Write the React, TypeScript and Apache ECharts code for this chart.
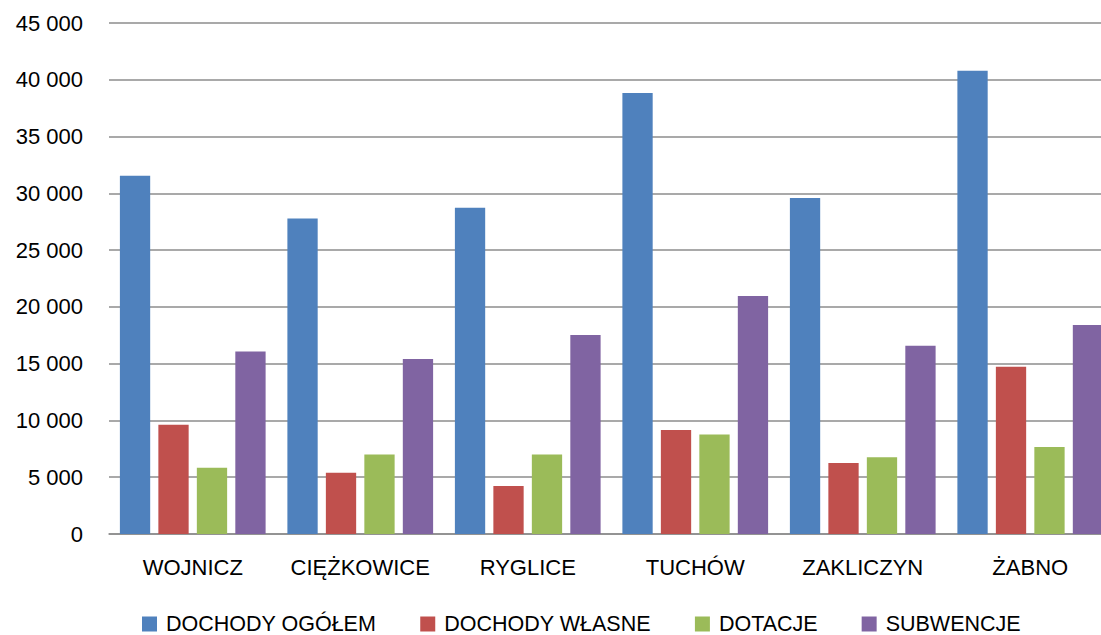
import React, { useEffect, useRef } from "react";
import * as echarts from "echarts";

const categories = ["WOJNICZ", "CIĘŻKOWICE", "RYGLICE", "TUCHÓW", "ZAKLICZYN", "ŻABNO"];
const seriesNames = ["DOCHODY OGÓŁEM", "DOCHODY WŁASNE", "DOTACJE", "SUBWENCJE"];
const dochodyOgolem = [31550, 27790, 28730, 38830, 29590, 40800];
const dochodyWlasne = [9620, 5400, 4230, 9160, 6250, 14730];
const dotacje = [5840, 7010, 7010, 8770, 6750, 7660];
const subwencje = [16080, 15410, 17520, 20960, 16580, 18400];
const colors = ["#4F81BD", "#C0504D", "#9BBB59", "#8064A2"];

const FONT = "'Liberation Sans', Arial, sans-serif";

function fmt(v: number): string {
  const s = String(Math.round(v));
  return s.replace(/\B(?=(\d{3})+(?!\d))/g, " ");
}

export default function App() {
  const ref = useRef<HTMLDivElement>(null);
  useEffect(() => {
    if (!ref.current) return;
    const chart = echarts.init(ref.current, null, { renderer: "svg" });
    const data = [dochodyOgolem, dochodyWlasne, dotacje, subwencje];
    chart.setOption({
      animation: false,
      backgroundColor: "#ffffff",
      grid: { left: 109, top: 23, bottom: 101, right: 0, containLabel: false },
      legend: {
        left: 142,
        top: 613,
        padding: 0,
        icon: "rect",
        itemWidth: 15,
        itemHeight: 15,
        itemGap: 44,
        textStyle: {
          fontFamily: FONT,
          fontSize: 21.5,
          color: "#000000",
          padding: [0, 0, 0, 4],
        },
        data: seriesNames,
      },
      xAxis: {
        type: "category",
        data: categories,
        axisLine: { show: true, lineStyle: { color: "#8c8c8c", width: 1.5 } },
        axisTick: { show: false },
        axisLabel: { fontFamily: FONT, fontSize: 22, color: "#000000", margin: 22, interval: 0 },
      },
      yAxis: {
        type: "value",
        min: 0,
        max: 45000,
        interval: 5000,
        axisLine: { show: false },
        axisTick: { show: false },
        splitLine: { show: true, lineStyle: { color: "#8c8c8c", width: 1.5 } },
        axisLabel: {
          fontFamily: FONT,
          fontSize: 22,
          color: "#000000",
          margin: 26,
          formatter: (v: number) => fmt(v),
        },
      },
      series: seriesNames.map((name, i) => ({
        name,
        type: "bar",
        data: data[i],
        barGap: "27%",
        barCategoryGap: "13%",
        itemStyle: { color: colors[i] },
      })),
    });
    return () => chart.dispose();
  }, []);
  return (
    <div
      style={{
        position: "absolute",
        left: 0,
        top: 0,
        width: 1101,
        height: 635,
        overflow: "hidden",
        background: "#ffffff",
      }}
    >
      <div ref={ref} style={{ width: 1114, height: 635 }} />
    </div>
  );
}
